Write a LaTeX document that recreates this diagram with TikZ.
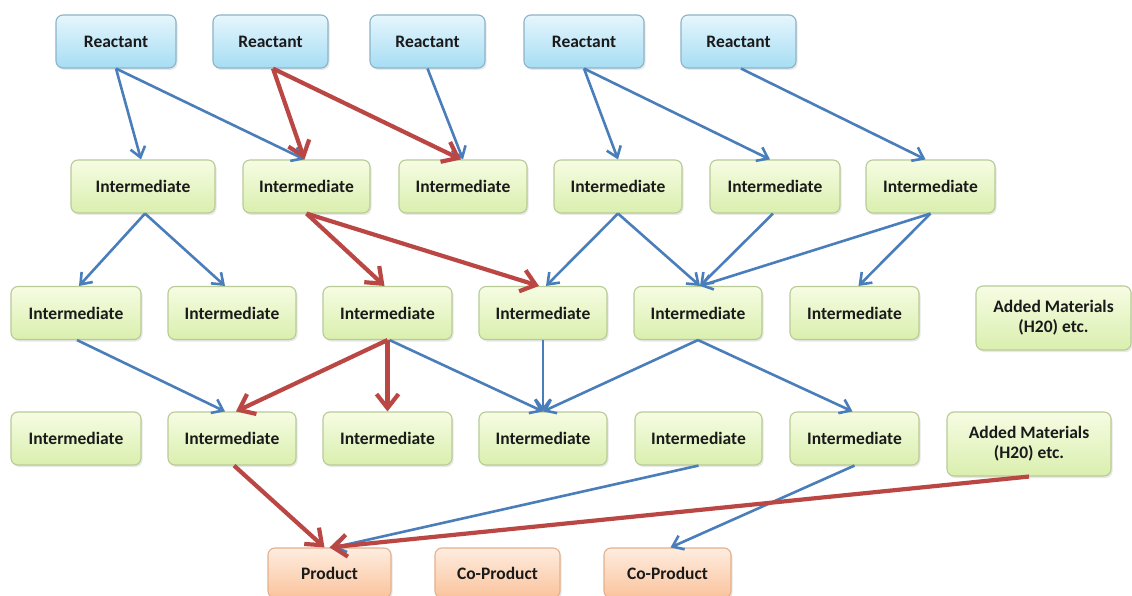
\documentclass[tikz,border=0pt]{standalone}
\usepackage{fontspec}
\setmainfont{Carlito}
\usetikzlibrary{arrows.meta,shadows}
\definecolor{blueline}{HTML}{4A7EBB}
\definecolor{redline}{HTML}{BA4744}
\definecolor{reacttop}{HTML}{E6F6FD}
\definecolor{reactbot}{HTML}{A6DDF3}
\definecolor{reactborder}{HTML}{8DB3C8}
\definecolor{intertop}{HTML}{F6FCE3}
\definecolor{interbot}{HTML}{DAEFAE}
\definecolor{interborder}{HTML}{B8CB97}
\definecolor{prodtop}{HTML}{FEEDE0}
\definecolor{prodbot}{HTML}{FAC39C}
\definecolor{prodborder}{HTML}{E5B08A}
\definecolor{textdark}{HTML}{1A1A1A}
\begin{document}
\begin{tikzpicture}[x=1pt,y=-1pt,
  box/.style={rounded corners=7pt, draw, line width=1.1pt, inner sep=0pt, align=center,
    font=\fontsize{17.5}{20}\selectfont\bfseries, text=textdark,
    drop shadow={opacity=0.18,shadow xshift=1.5pt,shadow yshift=-2pt}},
  react/.style={box, draw=reactborder, top color=reacttop, bottom color=reactbot, minimum height=53pt},
  inter/.style={box, draw=interborder, top color=intertop, bottom color=interbot, minimum height=53pt},
  prod/.style={box, draw=prodborder, top color=prodtop, bottom color=prodbot, minimum height=50pt},
  bluearrow/.style={draw=blueline, line width=2.6pt, -{Straight Barb[length=10pt,width=15pt]}},
  redarrow/.style={draw=redline, line width=4.2pt, -{Straight Barb[length=14pt,width=22pt]}}
]
\fill[white] (0,0) rectangle (1132,596);
\useasboundingbox (0,0) rectangle (1132,596);

% Row 1
\node[react, minimum width=120pt] (R1) at (116,41.5) {Reactant};
\node[react, minimum width=115pt] (R2) at (270.5,41.5) {Reactant};
\node[react, minimum width=115pt] (R3) at (427.5,41.5) {Reactant};
\node[react, minimum width=120pt] (R4) at (584,41.5) {Reactant};
\node[react, minimum width=115pt] (R5) at (738.5,41.5) {Reactant};

% Row 2
\node[inter, minimum width=144pt] (I2A) at (143,186.5) {Intermediate};
\node[inter, minimum width=127pt] (I2B) at (306.5,186.5) {Intermediate};
\node[inter, minimum width=128pt] (I2C) at (463,186.5) {Intermediate};
\node[inter, minimum width=128pt] (I2D) at (618,186.5) {Intermediate};
\node[inter, minimum width=130pt] (I2E) at (775,186.5) {Intermediate};
\node[inter, minimum width=129pt] (I2F) at (930.5,186.5) {Intermediate};

% Row 3
\node[inter, minimum width=130pt] (I3A) at (76,313) {Intermediate};
\node[inter, minimum width=128pt] (I3B) at (232,313) {Intermediate};
\node[inter, minimum width=129pt] (I3C) at (387.5,313) {Intermediate};
\node[inter, minimum width=128pt] (I3D) at (543,313) {Intermediate};
\node[inter, minimum width=128pt] (I3E) at (698,313) {Intermediate};
\node[inter, minimum width=129pt] (I3F) at (854.5,313) {Intermediate};
\node[inter, minimum width=155pt, minimum height=64pt] (AM1) at (1053.5,318) {Added Materials\\(H20) etc.};

% Row 4
\node[inter, minimum width=130pt] (I4A) at (76,438.5) {Intermediate};
\node[inter, minimum width=128pt] (I4B) at (232,438.5) {Intermediate};
\node[inter, minimum width=129pt] (I4C) at (387.5,438.5) {Intermediate};
\node[inter, minimum width=128pt] (I4D) at (543,438.5) {Intermediate};
\node[inter, minimum width=127pt] (I4E) at (698.5,438.5) {Intermediate};
\node[inter, minimum width=129pt] (I4F) at (854.5,438.5) {Intermediate};
\node[inter, minimum width=164pt, minimum height=64pt] (AM2) at (1029,444) {Added Materials\\(H20) etc.};

% Row 5
\node[prod, minimum width=123pt] (P) at (329.5,573) {Product};
\node[prod, minimum width=125pt] (CP1) at (497.5,573) {Co-Product};
\node[prod, minimum width=127pt] (CP2) at (667.5,573) {Co-Product};

% Row 1 -> Row 2
\draw[bluearrow] (R1.south) -- ([xshift=-2pt]I2A.north);
\draw[bluearrow] (R1.south) -- ([xshift=-2pt]I2B.north);
\draw[bluearrow] (R3.south) -- (I2C.north);
\draw[bluearrow] (R4.south) -- (I2D.north);
\draw[bluearrow] (R4.south) -- ([xshift=-5pt]I2E.north);
\draw[bluearrow] ([xshift=2.5pt]R5.south) -- ([xshift=-5pt]I2F.north);
\draw[redarrow] ([xshift=2.5pt]R2.south) -- ([xshift=-2pt]I2B.north);
\draw[redarrow] ([xshift=2.5pt]R2.south) -- ([xshift=-2pt]I2C.north);

% Row 2 -> Row 3
\draw[bluearrow] ([xshift=2pt]I2A.south) -- ([xshift=3pt]I3A.north);
\draw[bluearrow] ([xshift=2pt]I2A.south) -- ([xshift=-7pt]I3B.north);
\draw[bluearrow] (I2D.south) -- ([xshift=3pt]I3D.north);
\draw[bluearrow] (I2D.south) -- ([xshift=2pt]I3E.north);
\draw[bluearrow] ([xshift=-2pt]I2E.south) -- ([xshift=2pt]I3E.north);
\draw[bluearrow] (I2F.south) -- ([xshift=2pt]I3E.north);
\draw[bluearrow] (I2F.south) -- ([xshift=4pt]I3F.north);
\draw[redarrow] (I2B.south) -- ([xshift=-3pt]I3C.north);
\draw[redarrow] (I2B.south) -- ([xshift=-4pt]I3D.north);

% Row 3 -> Row 4
\draw[bluearrow] ([xshift=1pt]I3A.south) -- ([xshift=-7pt]I4B.north);
\draw[bluearrow] ([xshift=2pt]I3C.south) -- (I4D.north);
\draw[bluearrow] (I3D.south) -- (I4D.north);
\draw[bluearrow] (I3E.south) -- (I4D.north);
\draw[bluearrow] (I3E.south) -- ([xshift=-2pt]I4F.north);
\draw[redarrow] (I3C.south) -- ([xshift=4pt]I4B.north);
\draw[redarrow] (I3C.south) -- (I4C.north);

% Row 4 -> Row 5
\draw[bluearrow] (I4E.south) -- ([xshift=4pt]P.north);
\draw[bluearrow] (I4F.south) -- ([xshift=3pt]CP2.north);
\draw[redarrow] ([xshift=2pt]I4B.south) -- ([xshift=-5pt]P.north);
\draw[redarrow] (AM2.south) -- (P.north);
\end{tikzpicture}
\end{document}
